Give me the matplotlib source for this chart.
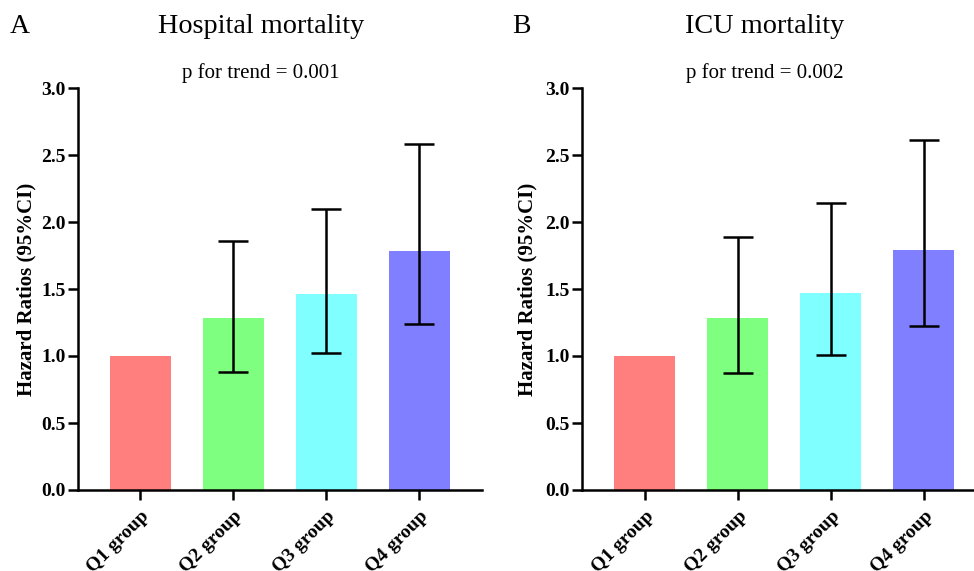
import numpy as np
import matplotlib
matplotlib.use("Agg")
from matplotlib import pyplot as plt

groups = ["Q1 group", "Q2 group", "Q3 group", "Q4 group"]
colors = ["#FF7F7F", "#7FFF7F", "#7FFFFF", "#7F7FFF"]

hosp_hr = [1.0, 1.28, 1.463, 1.786]
hosp_lo = [np.nan, 0.88, 1.02, 1.24]
hosp_hi = [np.nan, 1.86, 2.10, 2.58]

icu_hr = [1.0, 1.286, 1.47, 1.79]
icu_lo = [np.nan, 0.875, 1.01, 1.226]
icu_hi = [np.nan, 1.89, 2.14, 2.61]

panels = [
    ("A", "Hospital mortality", "p for trend = 0.001", hosp_hr, hosp_lo, hosp_hi),
    ("B", "ICU mortality", "p for trend = 0.002", icu_hr, icu_lo, icu_hi),
]

plt.rcParams['font.family'] = ['Liberation Serif', 'DejaVu Serif']

fig = plt.figure(figsize=(9.74, 5.71), dpi=100)
W, H = 974, 571

# axes boxes in pixels: left, right-edge, x range
boxes = [(78, 482, (-0.667, 3.677)), (582, 974, (-0.677, 3.538))]
title_x = [261, 765]
letter_x = [10, 512]
ylab_x = [26, 527]

for i, (letter, title, ptext, hr, lo, hi) in enumerate(panels):
    x0, x1, xl = boxes[i]
    ax = fig.add_axes([x0 / W, (H - 490) / H, (x1 - x0) / W, 402 / H])
    x = np.arange(len(groups))
    ax.bar(x, hr, width=0.656, color=colors, edgecolor="none")
    hr_a = np.array(hr)
    err = np.vstack([hr_a - np.array(lo), np.array(hi) - hr_a])
    ax.errorbar(x[1:], hr_a[1:], yerr=err[:, 1:], fmt="none", ecolor="black",
                elinewidth=1.8, capsize=11, capthick=1.8)
    ax.set_xlim(*xl)
    ax.set_ylim(0, 3.0)
    ax.set_yticks([0, 0.5, 1.0, 1.5, 2.0, 2.5, 3.0])
    ax.set_yticklabels(["0.0", "0.5", "1.0", "1.5", "2.0", "2.5", "3.0"],
                       fontweight="bold", fontsize=14)
    ax.set_xticks(x)
    ax.set_xticklabels(groups, rotation=45, ha="right", rotation_mode="anchor",
                       fontweight="bold", fontsize=14)
    ax.spines['right'].set_visible(False)
    ax.spines['top'].set_visible(False)
    for s in ['bottom', 'left']:
        ax.spines[s].set_linewidth(1.8)
    ax.spines['left'].set_bounds(0, 3.0)
    ax.tick_params(axis='y', direction='out', length=7, width=1.8, pad=2)
    ax.tick_params(axis='x', direction='out', length=7, width=1.8, pad=6)

    fig.text(ylab_x[i] / W, (H - 289) / H, "Hazard Ratios (95%CI)", rotation=90,
             ha="center", va="center", fontweight="bold", fontsize=15)
    fig.text(title_x[i] / W, (H - 33) / H, title, ha="center", va="baseline",
             fontsize=20.3)
    fig.text(letter_x[i] / W, (H - 33) / H, letter, ha="left", va="baseline",
             fontsize=20)
    fig.text(title_x[i] / W, (H - 78) / H, ptext, ha="center", va="baseline",
             fontsize=15)

fig.savefig("out.png", dpi=100)
